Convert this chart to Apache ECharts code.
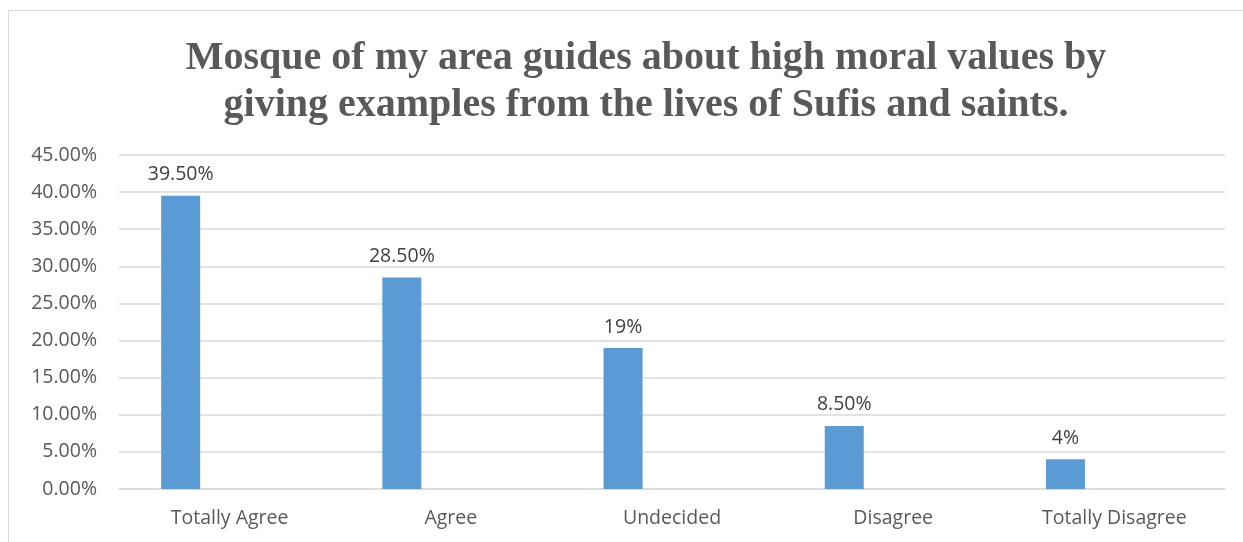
<!DOCTYPE html>
<html>
<head>
<meta charset="utf-8">
<script src="https://cdn.jsdelivr.net/npm/echarts@6/dist/echarts.min.js"></script>
<style>
html, body { margin: 0; padding: 0; background: #fff; }
#frame { position: absolute; left: 8px; top: 10px; width: 1250px; height: 540px; border: 1px solid #d9d9d9; box-sizing: border-box; }
#chart { width: 1243px; height: 542px; }
</style>
</head>
<body>
<div id="frame"></div>
<div id="chart"></div>
<script>
const titleText = 'Mosque of my area guides about high moral values by\ngiving examples from the lives of Sufis and saints.'
const categories = ['Totally Agree', 'Agree', 'Undecided', 'Disagree', 'Totally Disagree']
const values = [39.5, 28.5, 19, 8.5, 4]
const valueLabels = ['39.50%', '28.50%', '19%', '8.50%', '4%']

let chart = echarts.init(document.getElementById('chart'))
let option = {
  animation: false,
  title: {
    text: titleText,
    left: 641,
    textAlign: 'center',
    top: 30,
    textStyle: {
      fontFamily: 'Liberation Serif',
      fontWeight: 'bold',
      fontSize: 40,
      lineHeight: 47,
      color: '#595959'
    }
  },
  grid: { left: 119, right: 18, top: 155, bottom: 53 },
  xAxis: {
    type: 'category',
    data: categories,
    axisLine: { lineStyle: { color: '#d9d9d9', width: 1.5 } },
    axisTick: { show: false },
    axisLabel: { color: '#595959', fontFamily: 'Open Sans', fontSize: 19.5, margin: 19 }
  },
  yAxis: {
    type: 'value',
    min: 0,
    max: 45,
    interval: 5,
    axisLine: { show: false },
    axisTick: { show: false },
    splitLine: { lineStyle: { color: '#d9d9d9', width: 1.5 } },
    axisLabel: {
      color: '#595959',
      fontFamily: 'Open Sans',
      fontSize: 19.5,
      margin: 22,
      formatter: v => v.toFixed(2) + '%'
    }
  },
  series: [
    {
      type: 'bar',
      data: values,
      barWidth: 39,
      barGap: '151%',
      itemStyle: { color: '#5b9bd5' },
      label: {
        show: true,
        position: 'top',
        distance: 11,
        color: '#404040',
        fontFamily: 'Open Sans',
        fontSize: 19.5,
        formatter: p => valueLabels[p.dataIndex]
      }
    },
    {
      type: 'bar',
      data: categories.map(() => null),
      barWidth: 39
    }
  ]
}
chart.setOption(option)
</script>
</body>
</html>
